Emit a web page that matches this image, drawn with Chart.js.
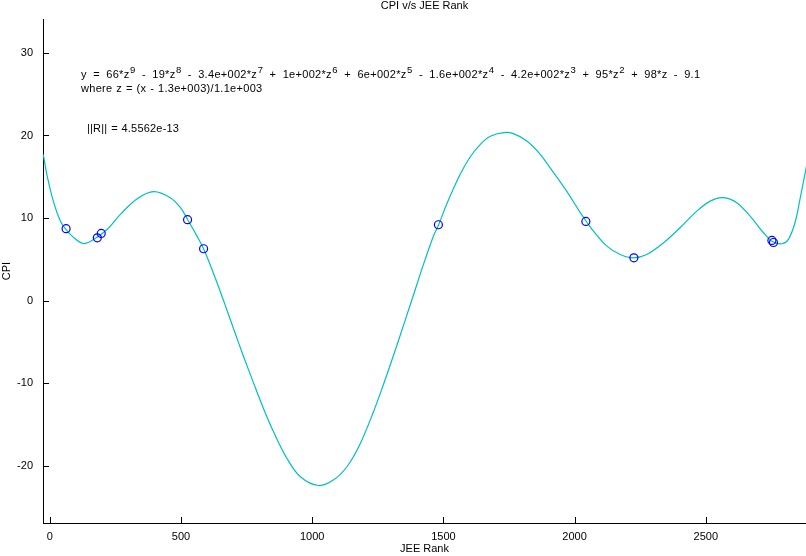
<!DOCTYPE html>
<html>
<head>
<meta charset="utf-8">
<script src="https://cdn.jsdelivr.net/npm/chart.js@4.4.1/dist/chart.umd.min.js"></script>
<style>
html,body{margin:0;padding:0;background:#fff;}
#wrap{width:806px;height:556px;position:relative;}
</style>
</head>
<body>
<div id="wrap"><canvas id="c" width="806" height="556"></canvas></div>
<script>
// Data points (JEE Rank, CPI)
const rankPoints = [62, 181, 196, 525, 586, 1481, 2043, 2226, 2752, 2758];
const cpiPoints  = [8.72, 7.62, 8.15, 9.81, 6.29, 9.2, 9.6, 5.2, 7.3, 7.05];

// Fitted curve
const curveX = [-25, -10, 15, 40, 59, 85, 127, 167, 218, 269, 333, 396, 459, 498, 525, 561, 586, 624, 663, 701, 739, 777, 815, 853, 904, 955, 1024, 1082, 1133, 1183, 1234, 1272, 1310, 1357, 1386, 1424, 1463, 1482, 1514, 1564, 1602, 1640, 1679, 1729, 1767, 1818, 1869, 1920, 1971, 2021, 2047, 2072, 2123, 2174, 2224, 2275, 2339, 2402, 2466, 2517, 2567, 2618, 2669, 2720, 2752, 2790, 2815, 2840, 2859, 2884];
const curveY = [17.72, 15.09, 11.87, 9.64, 8.72, 7.82, 6.93, 7.42, 8.63, 10.45, 12.35, 13.2, 12.47, 11.26, 9.84, 7.82, 6.29, 3.3, -0.05, -3.45, -6.8, -10.0, -13.1, -15.9, -19.1, -21.3, -22.36, -21.67, -20.06, -17.3, -13.4, -10.1, -6.6, -2.1, 0.7, 4.4, 7.9, 9.2, 11.8, 15.3, 17.4, 18.9, 19.9, 20.35, 20.23, 19.33, 17.72, 15.5, 13.2, 10.7, 9.5, 8.42, 6.61, 5.6, 5.2, 5.6, 7.02, 8.84, 10.85, 12.06, 12.47, 11.87, 10.24, 8.23, 7.21, 6.9, 7.42, 9.44, 12.27, 16.3];

// Tick labels
const xTicks = [0, 500, 1000, 1500, 2000, 2500];
const yTicks = [-20, -10, 0, 10, 20, 30];

const titleText = 'CPI v/s JEE Rank';
const xTitle = 'JEE Rank';
const yTitle = 'CPI';
// Equation text: [text, isSuperscript]
const eqLine1 = [['y = 66*z',0],['9',1],[' - 19*z',0],['8',1],[' - 3.4e+002*z',0],['7',1],[' + 1e+002*z',0],['6',1],[' + 6e+002*z',0],['5',1],[' - 1.6e+002*z',0],['4',1],[' - 4.2e+002*z',0],['3',1],[' + 95*z',0],['2',1],[' + 98*z - 9.1',0]];
const eqLine2 = 'where z = (x - 1.3e+003)/1.1e+003';
const normText = '||R|| = 4.5562e-13';

const FONT = '"Liberation Sans", Arial, sans-serif';

function setSpacing(ctx, ls, ws) {
  if ('letterSpacing' in ctx) ctx.letterSpacing = ls + 'px';
  if ('wordSpacing' in ctx) ctx.wordSpacing = ws + 'px';
}

const textPlugin = {
  id: 'matlabText',
  afterDraw(chart) {
    const ctx = chart.ctx;
    const ca = chart.chartArea;
    const xs = chart.scales.x, ys = chart.scales.y;
    ctx.save();
    // inward ticks
    ctx.strokeStyle = '#000';
    ctx.lineWidth = 1;
    ctx.beginPath();
    xTicks.forEach(v => {
      const px = Math.round(xs.getPixelForValue(v)) + 0.5;
      ctx.moveTo(px, ca.bottom);
      ctx.lineTo(px, ca.bottom - 6);
    });
    yTicks.forEach(v => {
      const py = Math.round(ys.getPixelForValue(v)) + 0.5;
      ctx.moveTo(ca.left, py);
      ctx.lineTo(ca.left + 6, py);
    });
    ctx.stroke();
    // title
    ctx.fillStyle = '#000';
    ctx.font = '11px ' + FONT;
    ctx.textAlign = 'center';
    ctx.textBaseline = 'middle';
    ctx.fillText(titleText, (ca.left + ca.right) / 2, 6);
    // equation
    ctx.textAlign = 'left';
    ctx.textBaseline = 'alphabetic';
    let x = 81;
    const base1 = 78;
    setSpacing(ctx, 0.3, 3);
    eqLine1.forEach(([t, sup]) => {
      if (sup) {
        ctx.font = '9.5px ' + FONT;
        ctx.fillText(t, x + 0.5, base1 - 5);
        x += ctx.measureText(t).width + 0.5;
      } else {
        ctx.font = '11px ' + FONT;
        ctx.fillText(t, x, base1);
        x += ctx.measureText(t).width;
      }
    });
    ctx.font = '11px ' + FONT;
    setSpacing(ctx, 0.3, 0.5);
    ctx.fillText(eqLine2, 81, 92);
    setSpacing(ctx, 0.2, 0.5);
    ctx.fillText(normText, 87, 132);
    ctx.restore();
  }
};

new Chart(document.getElementById('c'), {
  type: 'scatter',
  data: {
    datasets: [
      {
        label: 'fit',
        data: curveX.map((x, i) => ({x: x, y: curveY[i]})),
        showLine: true,
        borderColor: 'rgb(0,191,191)',
        borderWidth: 1.2,
        pointRadius: 0,
        tension: 0.35,
        fill: false,
        order: 2
      },
      {
        label: 'data',
        data: rankPoints.map((x, i) => ({x: x, y: cpiPoints[i]})),
        showLine: false,
        pointStyle: 'circle',
        pointRadius: 4,
        pointBorderColor: '#0000ff',
        pointBackgroundColor: 'rgba(0,0,0,0)',
        pointBorderWidth: 1.2,
        order: 1
      }
    ]
  },
  options: {
    responsive: false,
    animation: false,
    devicePixelRatio: 1,
    layout: {autoPadding: false, padding: {top: 19, right: 0, left: 0, bottom: 0}},
    plugins: {legend: {display: false}, tooltip: {enabled: false}, title: {display: false}},
    scales: {
      x: {
        type: 'linear',
        min: -26,
        max: 2882,
        afterBuildTicks: s => { s.ticks = xTicks.map(v => ({value: v})); },
        afterFit: s => { s.height = 33; s.paddingLeft = 0; s.paddingRight = 0; },
        grid: {display: false, drawTicks: false},
        border: {display: true, color: '#000', width: 1},
        ticks: {color: '#000', font: {family: FONT, size: 11}, padding: 7, maxRotation: 0, autoSkip: false,
                callback: v => String(v)},
        title: {display: true, text: xTitle, color: '#000', font: {family: FONT, size: 11}, padding: 0}
      },
      y: {
        type: 'linear',
        min: -26.9,
        max: 34.1,
        afterBuildTicks: s => { s.ticks = yTicks.map(v => ({value: v})); },
        afterFit: s => { s.width = 43; },
        grid: {display: false, drawTicks: false},
        border: {display: true, color: '#000', width: 1},
        ticks: {color: '#000', font: {family: FONT, size: 11}, padding: 10, callback: v => String(v)},
        title: {display: true, text: yTitle, color: '#000', font: {family: FONT, size: 11}, padding: 0}
      }
    }
  },
  plugins: [textPlugin]
});
</script>
</body>
</html>
